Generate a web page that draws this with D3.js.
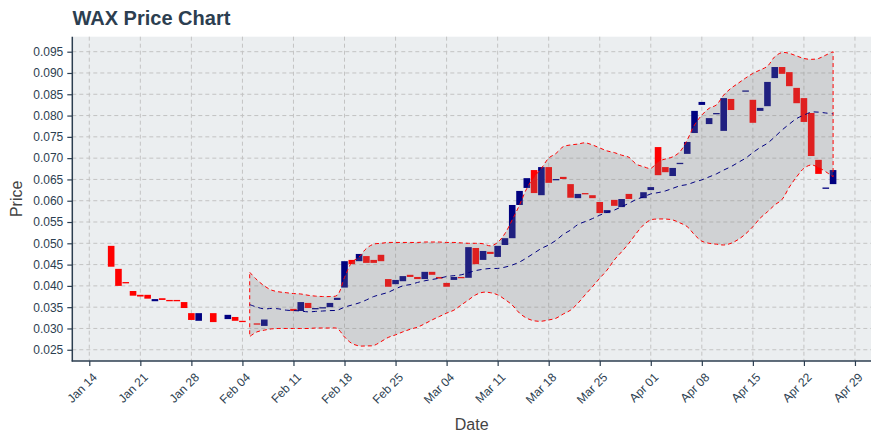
<!DOCTYPE html>
<html>
<head>
<meta charset="utf-8">
<script src="https://cdn.jsdelivr.net/npm/d3@7"></script>
<style>
  body { margin: 0; background: #ffffff; }
  svg { display: block; }
  text { font-family: Arial, "Liberation Sans", Helvetica, sans-serif; }
</style>
</head>
<body>
<svg id="chart" width="880" height="440"></svg>
<script>
// ---------------- DATA ----------------
const dates = [
  "2019-01-17","2019-01-18","2019-01-19","2019-01-20","2019-01-21","2019-01-22","2019-01-23","2019-01-24","2019-01-25","2019-01-26",
  "2019-01-27","2019-01-28","2019-01-29","2019-01-30","2019-01-31","2019-02-01","2019-02-02","2019-02-03","2019-02-04","2019-02-05",
  "2019-02-06","2019-02-07","2019-02-08","2019-02-09","2019-02-10","2019-02-11","2019-02-12","2019-02-13","2019-02-14","2019-02-15",
  "2019-02-16","2019-02-17","2019-02-18","2019-02-19","2019-02-20","2019-02-21","2019-02-22","2019-02-23","2019-02-24","2019-02-25",
  "2019-02-26","2019-02-27","2019-02-28","2019-03-01","2019-03-02","2019-03-03","2019-03-04","2019-03-05","2019-03-06","2019-03-07",
  "2019-03-08","2019-03-09","2019-03-10","2019-03-11","2019-03-12","2019-03-13","2019-03-14","2019-03-15","2019-03-16","2019-03-17",
  "2019-03-18","2019-03-19","2019-03-20","2019-03-21","2019-03-22","2019-03-23","2019-03-24","2019-03-25","2019-03-26","2019-03-27",
  "2019-03-28","2019-03-29","2019-03-30","2019-03-31","2019-04-01","2019-04-02","2019-04-03","2019-04-04","2019-04-05","2019-04-06",
  "2019-04-07","2019-04-08","2019-04-09","2019-04-10","2019-04-11","2019-04-12","2019-04-13","2019-04-14","2019-04-15","2019-04-16",
  "2019-04-17","2019-04-18","2019-04-19","2019-04-20","2019-04-21","2019-04-22","2019-04-23","2019-04-24","2019-04-25","2019-04-26"
];
const openPrices = [
  0.0494,0.0440,0.0409,0.0388,0.0379,0.0379,0.0364,0.0371,0.0367,0.0367,
  0.0362,0.0336,0.0318,0.0336,0.0336,0.0318,0.0322,0.0327,0.0318,0.0314,
  0.0312,0.0306,0.0325,0.0333,0.0340,0.0346,0.0341,0.0360,0.0347,0.0349,
  0.0350,0.0367,0.0396,0.0461,0.0458,0.0470,0.0461,0.0473,0.0416,0.0404,
  0.0411,0.0426,0.0421,0.0416,0.0433,0.0421,0.0407,0.0414,0.0421,0.0419,
  0.0489,0.0461,0.0480,0.0468,0.0496,0.0512,0.0590,0.0630,0.0672,0.0613,
  0.0679,0.0650,0.0656,0.0639,0.0606,0.0618,0.0613,0.0597,0.0571,0.0602,
  0.0585,0.0616,0.0605,0.0606,0.0625,0.0726,0.0679,0.0658,0.0688,0.0710,
  0.0759,0.0825,0.0780,0.0805,0.0764,0.0839,0.0840,0.0858,0.0837,0.0811,
  0.0822,0.0888,0.0914,0.0902,0.0865,0.0841,0.0806,0.0696,0.0630,0.0639
];
const closePrices = [
  0.0445,0.0400,0.0408,0.0377,0.0375,0.0370,0.0369,0.0367,0.0365,0.0365,
  0.0348,0.0320,0.0336,0.0336,0.0315,0.0318,0.0332,0.0318,0.0316,0.0314,
  0.0309,0.0321,0.0325,0.0333,0.0340,0.0341,0.0362,0.0348,0.0348,0.0350,
  0.0360,0.0372,0.0458,0.0451,0.0475,0.0454,0.0454,0.0458,0.0398,0.0414,
  0.0423,0.0421,0.0416,0.0433,0.0426,0.0417,0.0398,0.0421,0.0419,0.0491,
  0.0451,0.0482,0.0475,0.0494,0.0512,0.0590,0.0623,0.0653,0.0618,0.0679,
  0.0642,0.0651,0.0651,0.0607,0.0616,0.0616,0.0606,0.0571,0.0578,0.0588,
  0.0604,0.0604,0.0605,0.0620,0.0632,0.0660,0.0667,0.0677,0.0689,0.0738,
  0.0811,0.0832,0.0794,0.0806,0.0841,0.0813,0.0840,0.0859,0.0783,0.0818,
  0.0879,0.0914,0.0898,0.0869,0.0829,0.0785,0.0705,0.0663,0.0631,0.0672
];
// Bollinger band values, from 2019-02-05 to 2019-04-26
const bandStartIndex = 19;
const bandUpper = [
  0.0432,0.0414,0.0400,0.0390,0.0386,0.0384,0.0382,0.0381,0.0378,0.0376,
  0.0375,0.0375,0.0378,0.0420,0.0455,0.0468,0.0488,0.0498,0.0500,0.0502,
  0.0502,0.0502,0.0502,0.0502,0.0503,0.0503,0.0503,0.0502,0.0502,0.0501,
  0.0500,0.0500,0.0499,0.0494,0.0502,0.0523,0.0555,0.0590,0.0629,0.0656,
  0.0676,0.0700,0.0711,0.0727,0.0731,0.0733,0.0736,0.0731,0.0724,0.0717,
  0.0713,0.0707,0.0702,0.0686,0.0680,0.0676,0.0692,0.0698,0.0703,0.0715,
  0.0743,0.0778,0.0801,0.0817,0.0825,0.0848,0.0864,0.0876,0.0888,0.0899,
  0.0907,0.0916,0.0938,0.0948,0.0946,0.0940,0.0934,0.0932,0.0934,0.0942,
  0.0950
];
const bandMiddle = [
  0.0356,0.0350,0.0346,0.0347,0.0346,0.0343,0.0342,0.0341,0.0339,0.0340,
  0.0341,0.0342,0.0343,0.0350,0.0355,0.0360,0.0367,0.0375,0.0380,0.0385,
  0.0393,0.0400,0.0403,0.0408,0.0412,0.0415,0.0418,0.0422,0.0424,0.0426,
  0.0431,0.0436,0.0439,0.0441,0.0441,0.0444,0.0449,0.0456,0.0466,0.0477,
  0.0488,0.0496,0.0507,0.0521,0.0531,0.0544,0.0551,0.0558,0.0566,0.0573,
  0.0578,0.0586,0.0594,0.0603,0.0609,0.0616,0.0619,0.0623,0.0629,0.0635,
  0.0638,0.0644,0.0649,0.0656,0.0663,0.0672,0.0680,0.0690,0.0700,0.0713,
  0.0725,0.0735,0.0750,0.0766,0.0780,0.0793,0.0801,0.0808,0.0808,0.0806,
  0.0804
];
const bandLower = [
  0.0281,0.0292,0.0296,0.0299,0.0300,0.0300,0.0300,0.0300,0.0300,0.0301,
  0.0301,0.0301,0.0300,0.0280,0.0265,0.0259,0.0259,0.0260,0.0269,0.0279,
  0.0285,0.0292,0.0298,0.0303,0.0311,0.0320,0.0328,0.0336,0.0343,0.0355,
  0.0367,0.0379,0.0385,0.0384,0.0379,0.0368,0.0355,0.0336,0.0324,0.0318,
  0.0317,0.0320,0.0324,0.0334,0.0343,0.0359,0.0379,0.0398,0.0418,0.0437,
  0.0461,0.0480,0.0500,0.0523,0.0543,0.0555,0.0557,0.0557,0.0555,0.0548,
  0.0539,0.0520,0.0505,0.0500,0.0498,0.0496,0.0500,0.0509,0.0522,0.0539,
  0.0559,0.0574,0.0590,0.0603,0.0632,0.0656,0.0676,0.0684,0.0678,0.0668,
  0.0656
];
const xTickLabels = ["2019-01-14","2019-01-21","2019-01-28","2019-02-04","2019-02-11","2019-02-18","2019-02-25",
  "2019-03-04","2019-03-11","2019-03-18","2019-03-25","2019-04-01","2019-04-08","2019-04-15","2019-04-22","2019-04-29"];
const yTickValues = [0.025,0.030,0.035,0.040,0.045,0.050,0.055,0.060,0.065,0.070,0.075,0.080,0.085,0.090,0.095];

// ---------------- LAYOUT ----------------
const L = 72.3, R = 871, T = 36.7, B = 361;
const DAY = 864e5;
const parse = d3.utcParse("%Y-%m-%d");
const dd = dates.map(parse);
const candles = dd.map((d, i) => ({ date: d, open: openPrices[i], close: closePrices[i] }));
const band = bandUpper.map((u, i) => ({ date: dd[bandStartIndex + i], upper: u, mid: bandMiddle[i], lower: bandLower[i] }));

const x = d3.scaleUtc()
  .domain([new Date(dd[0].getTime() - 5.33 * DAY), new Date(dd[dd.length - 1].getTime() + 5.2 * DAY)])
  .range([L, R]);
const y = d3.scaleLinear().domain([0.02236, 0.09852]).range([B, T]);

const svg = d3.select("#chart");
const ink = "#2c3e50";

// title
svg.append("text").attr("x", 72.5).attr("y", 25).attr("font-size", 20).attr("font-weight", "bold")
  .attr("fill", ink).text("WAX Price Chart");

// plot background
svg.append("rect").attr("x", L).attr("y", T).attr("width", R - L).attr("height", B - T).attr("fill", "#ebeef0");

// grid
const xTicks = xTickLabels.map(parse);
const grid = svg.append("g").attr("stroke", "#c3c3c3").attr("stroke-width", 1).attr("stroke-dasharray", "4,3");
grid.selectAll("line.h").data(yTickValues).join("line").attr("class", "h")
  .attr("x1", L).attr("x2", R).attr("y1", d => y(d)).attr("y2", d => y(d));
grid.selectAll("line.v").data(xTicks).join("line").attr("class", "v")
  .attr("x1", d => x(d)).attr("x2", d => x(d)).attr("y1", T).attr("y2", B);

// candles (bodies)
const cw = 6.6;
svg.append("g").selectAll("rect").data(candles.filter(c => c.open !== c.close)).join("rect")
  .attr("x", c => x(c.date) - cw / 2)
  .attr("width", cw)
  .attr("y", c => Math.min(y(c.open), y(c.close)))
  .attr("height", c => Math.max(Math.abs(y(c.open) - y(c.close)), 1.3))
  .attr("fill", c => c.close > c.open ? "#000080" : "#ff0000");

// band
const area = d3.area().x(d => x(d.date)).y0(d => y(d.lower)).y1(d => y(d.upper)).curve(d3.curveCatmullRom);
svg.append("path").datum(band).attr("d", area)
  .attr("fill", "rgba(128,128,128,0.25)")
  .attr("stroke", "#ff0000").attr("stroke-width", 1).attr("stroke-dasharray", "4,3");

// middle band
const midLine = d3.line().x(d => x(d.date)).y(d => y(d.mid)).curve(d3.curveCatmullRom);
svg.append("path").datum(band).attr("d", midLine).attr("fill", "none")
  .attr("stroke", "#000080").attr("stroke-width", 1).attr("stroke-dasharray", "5,4");

// axes
const yAxis = svg.append("g").attr("transform", `translate(${L},0)`)
  .call(d3.axisLeft(y).tickValues(yTickValues).tickFormat(d3.format(".3f")).tickSize(5).tickSizeOuter(0).tickPadding(4));
yAxis.select(".domain").remove();
yAxis.selectAll("line").attr("stroke", ink).attr("stroke-width", 1.2);
yAxis.selectAll("text").attr("fill", ink).attr("font-size", 12).attr("font-family", "Arial, 'Liberation Sans', sans-serif");

const xAxis = svg.append("g").attr("transform", `translate(0,${B})`)
  .call(d3.axisBottom(x).tickValues(xTicks).tickSize(5).tickSizeOuter(0).tickFormat(""));
xAxis.select(".domain").remove();
xAxis.selectAll("line").attr("stroke", ink).attr("stroke-width", 1.2);

const fmt = d3.utcFormat("%b %d");
svg.append("g").selectAll("text").data(xTicks).join("text")
  .attr("transform", d => `translate(${x(d) + 5.5},${B + 14}) rotate(-45)`)
  .attr("text-anchor", "end").attr("dy", "0.35em")
  .attr("font-size", 12).attr("fill", ink)
  .text(d => fmt(d));

// axis lines
svg.append("line").attr("x1", L).attr("x2", L).attr("y1", T).attr("y2", B + 0.6).attr("stroke", ink).attr("stroke-width", 1.5);
svg.append("line").attr("x1", L - 0.6).attr("x2", R).attr("y1", B).attr("y2", B).attr("stroke", ink).attr("stroke-width", 1.5);

// axis titles
svg.append("text").attr("x", (L + R) / 2).attr("y", 430).attr("text-anchor", "middle")
  .attr("font-size", 16).attr("fill", "#444").text("Date");
svg.append("text").attr("transform", `translate(22,${(T + B) / 2}) rotate(-90)`).attr("text-anchor", "middle")
  .attr("font-size", 16).attr("fill", "#444").text("Price");
</script>
</body>
</html>
